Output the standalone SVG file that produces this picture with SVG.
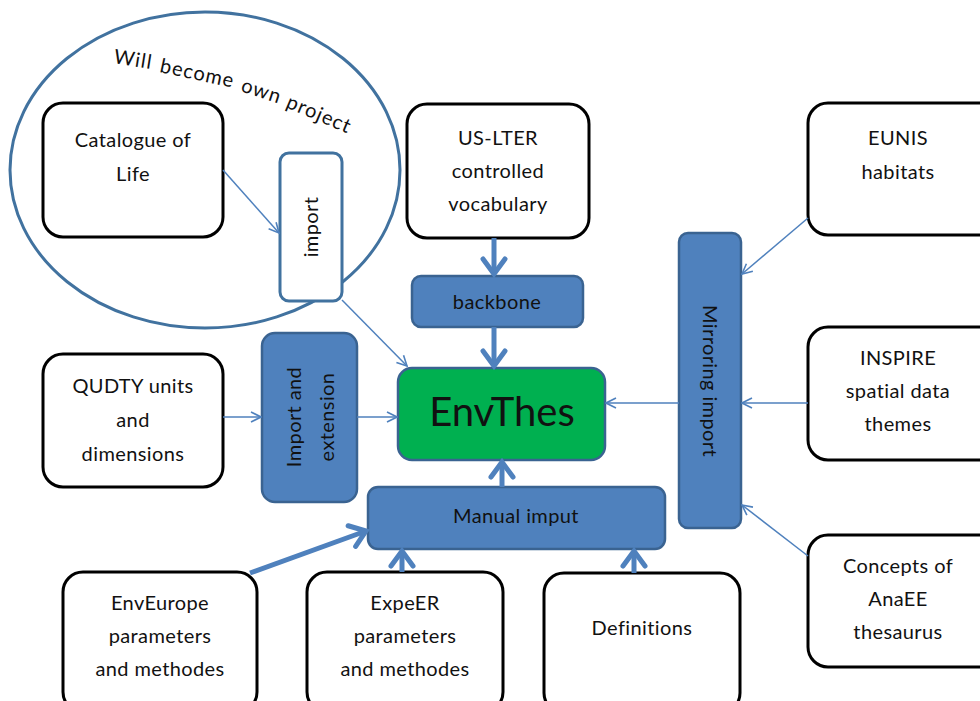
<svg xmlns="http://www.w3.org/2000/svg" width="980" height="701" viewBox="0 0 980 701">
<defs>
<style>
text{font-family:Lato,"Open Sans","Liberation Sans",sans-serif;fill:#111;text-anchor:middle}
.src rect{fill:#fff;stroke:#000;stroke-width:3}
.proc rect{fill:#4F81BD;stroke:#3A6391;stroke-width:2.5}
.t{font-size:20px;letter-spacing:0.4px}
.w{font-size:20px;letter-spacing:1px;text-anchor:start}
.thin{stroke:#4F81BD;stroke-width:1.5;fill:none;marker-end:url(#mthin)}
.thick{stroke:#4F81BD;stroke-width:5;fill:none;marker-end:url(#mthick)}
</style>
<marker id="mthin" viewBox="0 0 12 12" refX="11" refY="6" markerWidth="12" markerHeight="12" markerUnits="userSpaceOnUse" orient="auto">
<path d="M1,1 L11,6 L1,11" fill="none" stroke="#4F81BD" stroke-width="1.6"/>
</marker>
<marker id="mthick" viewBox="0 0 22 28" refX="18" refY="14" markerWidth="22" markerHeight="28" markerUnits="userSpaceOnUse" orient="auto">
<path d="M3,3 L18,14 L3,25" fill="none" stroke="#4F81BD" stroke-width="5" stroke-linecap="round"/>
</marker>
</defs>
<rect width="980" height="701" fill="#fff"/>

<g id="project-group">
<ellipse cx="205" cy="170" rx="195" ry="158" fill="none" stroke="#41729F" stroke-width="3"/>
<text class="w" transform="translate(113,63) rotate(9)">Will</text>
<text class="w" transform="translate(159,72) rotate(12)">become</text>
<text class="w" transform="translate(240,91) rotate(18)">own</text>
<text class="w" transform="translate(285,107) rotate(23)">project</text>
</g>

<g id="catalogue" class="src"><rect x="43" y="103" width="180" height="134" rx="20"/>
<text class="t" x="133" y="147">Catalogue of</text><text class="t" x="133" y="181">Life</text></g>

<g id="import"><rect x="280" y="153" width="62" height="148" rx="9" fill="#fff" stroke="#41729F" stroke-width="3"/>
<text class="t" transform="translate(318,227) rotate(-90)">import</text></g>

<g id="usl" class="src"><rect x="407" y="104" width="182" height="134" rx="20"/>
<text class="t" x="498" y="145">US-LTER</text><text class="t" x="498" y="178">controlled</text><text class="t" x="498" y="211">vocabulary</text></g>

<g id="backbone" class="proc"><rect x="412" y="276" width="171" height="51" rx="9"/>
<text class="t" x="497" y="309">backbone</text></g>

<g id="envthes"><rect x="398" y="368" width="207" height="92" rx="14" fill="#00B050" stroke="#3A6391" stroke-width="2.5"/>
<text x="502" y="426" style="font-size:40px">EnvThes</text></g>

<g id="impext" class="proc"><rect x="262" y="333" width="95" height="169" rx="13"/>
<text class="t" transform="translate(301,417) rotate(-90)">Import and</text>
<text class="t" transform="translate(334,417) rotate(-90)">extension</text></g>

<g id="qudty" class="src"><rect x="43" y="354" width="180" height="133" rx="20"/>
<text class="t" x="133" y="393">QUDTY units</text><text class="t" x="133" y="427">and</text><text class="t" x="133" y="461">dimensions</text></g>

<g id="manual" class="proc"><rect x="368" y="487" width="297" height="62" rx="10"/>
<text class="t" x="516" y="523">Manual imput</text></g>

<g id="mirror" class="proc"><rect x="679" y="233" width="62" height="295" rx="9"/>
<text class="t" transform="translate(703,381) rotate(90)">Mirroring import</text></g>

<g id="eunis" class="src"><rect x="808" y="103" width="190" height="132" rx="20"/>
<text class="t" x="898" y="145">EUNIS</text><text class="t" x="898" y="179">habitats</text></g>

<g id="inspire" class="src"><rect x="808" y="327" width="190" height="133" rx="20"/>
<text class="t" x="898" y="365">INSPIRE</text><text class="t" x="898" y="398">spatial data</text><text class="t" x="898" y="431">themes</text></g>

<g id="anaee" class="src"><rect x="808" y="535" width="190" height="132" rx="20"/>
<text class="t" x="898" y="573">Concepts of</text><text class="t" x="898" y="606">AnaEE</text><text class="t" x="898" y="639">thesaurus</text></g>

<g id="enveurope" class="src"><rect x="63" y="572" width="194" height="140" rx="20"/>
<text class="t" x="160" y="610">EnvEurope</text><text class="t" x="160" y="643">parameters</text><text class="t" x="160" y="676">and methodes</text></g>

<g id="expeer" class="src"><rect x="307" y="572" width="196" height="140" rx="20"/>
<text class="t" x="405" y="610">ExpeER</text><text class="t" x="405" y="643">parameters</text><text class="t" x="405" y="676">and methodes</text></g>

<g id="definitions" class="src"><rect x="544" y="573" width="196" height="140" rx="20"/>
<text class="t" x="642" y="635">Definitions</text></g>

<g id="connectors">
<line class="thin" x1="223" y1="170" x2="279" y2="233"/>
<line class="thin" x1="342" y1="300" x2="407" y2="366"/>
<line class="thin" x1="223" y1="417" x2="261" y2="417"/>
<line class="thin" x1="357" y1="417" x2="397" y2="417"/>
<line class="thin" x1="679" y1="403" x2="606" y2="403"/>
<line class="thin" x1="808" y1="218" x2="742" y2="274"/>
<line class="thin" x1="808" y1="403" x2="742" y2="403"/>
<line class="thin" x1="808" y1="556" x2="742" y2="505"/>
<line class="thick" x1="494" y1="238" x2="494" y2="274"/>
<line class="thick" x1="494" y1="327" x2="494" y2="366"/>
<line class="thick" x1="502" y1="487" x2="502" y2="462"/>
<line class="thick" x1="250" y1="573" x2="366" y2="531"/>
<line class="thick" x1="402" y1="572" x2="402" y2="551"/>
<line class="thick" x1="634" y1="573" x2="634" y2="551"/>
</g>
</svg>
